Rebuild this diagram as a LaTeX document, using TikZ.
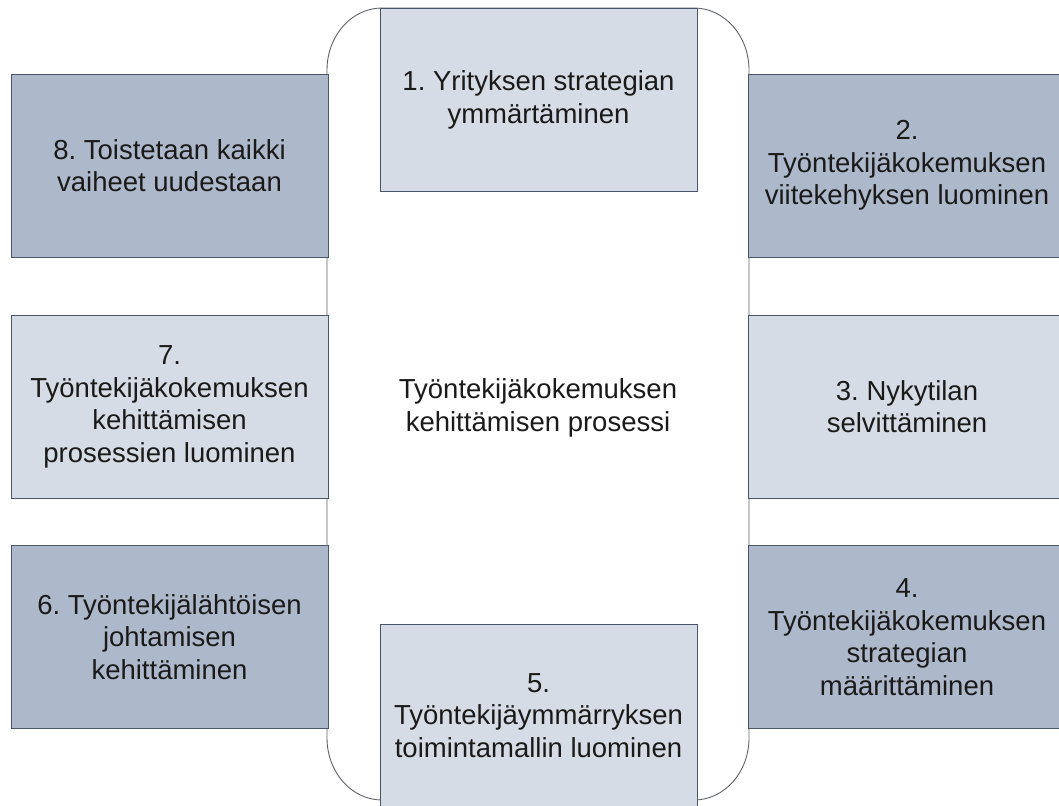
\documentclass[tikz,border=0pt]{standalone}
\usepackage{fontspec}
\setmainfont{Liberation Sans}
\frenchspacing
\definecolor{darkfill}{HTML}{ADB9CA}
\definecolor{lightfill}{HTML}{D6DCE5}
\definecolor{boxline}{HTML}{4A5668}
\definecolor{outlinecol}{HTML}{5F6368}
\definecolor{textcol}{HTML}{1A1A1A}
\begin{document}
\begin{tikzpicture}[x=1pt,y=-1pt,
  basebox/.style={draw=boxline, line width=0.9pt, minimum width=317pt, minimum height=183pt,
    inner sep=0pt, align=center, text=textcol, font=\fontsize{27.5}{32.5}\selectfont\frenchspacing},
  darkbox/.style={basebox, fill=darkfill},
  lightbox/.style={basebox, fill=lightfill},
  centertext/.style={align=center, text=textcol, font=\fontsize{27.5}{32.5}\selectfont, inner sep=0pt},
  frame/.style={draw=outlinecol, line width=0.9pt, fill=white}]
\useasboundingbox (0,0) rectangle (1059,805);
\clip (0,0) rectangle (1059,805);
% central rounded shape
\draw[frame] (382,8) -- (694,8)
  arc[start angle=90, end angle=0, x radius=55pt, y radius=62pt]
  -- (749,738)
  arc[start angle=0, end angle=-90, x radius=55pt, y radius=62pt]
  -- (382,800)
  arc[start angle=270, end angle=180, x radius=55pt, y radius=62pt]
  -- (327,70)
  arc[start angle=180, end angle=90, x radius=55pt, y radius=62pt]
  -- cycle;
\node[centertext] (mid) at (538,408) {Työntekijäkokemuksen\\kehittämisen prosessi};
% boxes
\node[lightbox] (b1) at (538.5,100) {1. Yrityksen strategian\\ymmärtäminen};
\node[darkbox, minimum width=318pt] (b2) at (907,165.5) {2.\\Työntekijäkokemuksen\\viitekehyksen luominen};
\node[lightbox, minimum width=318pt] (b3) at (907,406.5) {3. Nykytilan\\selvittäminen};
\node[darkbox, minimum width=318pt] (b4) at (907,637) {4.\\Työntekijäkokemuksen\\strategian\\määrittäminen};
\node[lightbox] (b5) at (538.5,715.5) {5.\\Työntekijäymmärryksen\\toimintamallin luominen};
\node[darkbox] (b6) at (169.5,637) {6. Työntekijälähtöisen\\johtamisen\\kehittäminen};
\node[lightbox] (b7) at (169.5,407) {7.\\Työntekijäkokemuksen\\kehittämisen\\prosessien luominen};
\node[darkbox] (b8) at (169.5,165.5) {8. Toistetaan kaikki\\vaiheet uudestaan};
\end{tikzpicture}
\end{document}
